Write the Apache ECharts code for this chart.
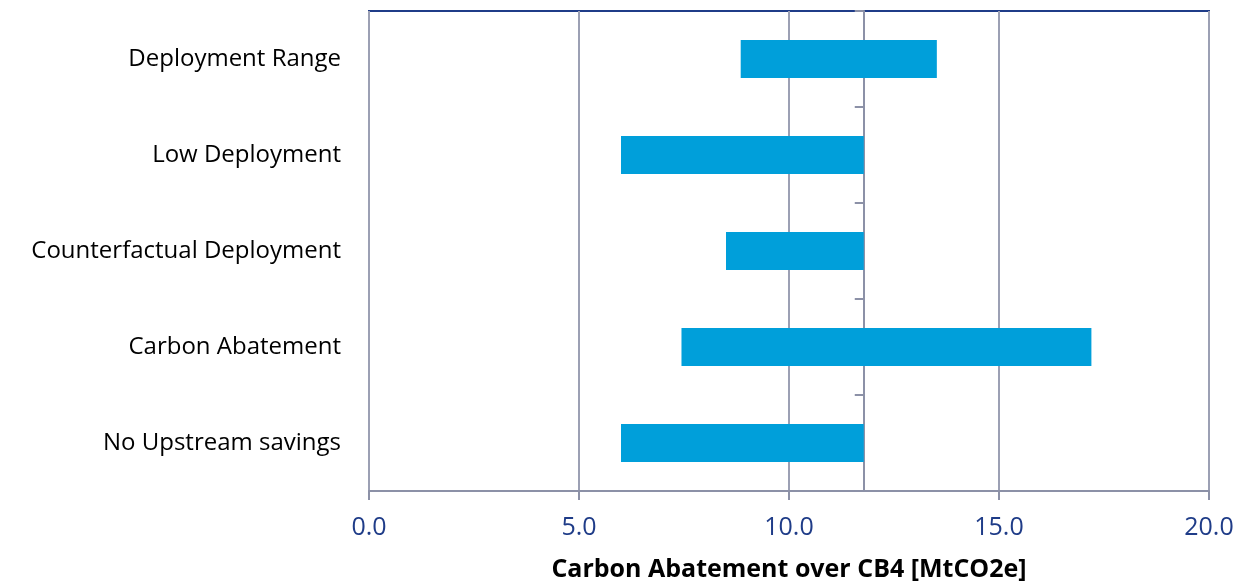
<!DOCTYPE html>
<html>
<head>
<meta charset="utf-8">
<script src="https://cdn.jsdelivr.net/npm/echarts@6/dist/echarts.min.js"></script>
<style>
html,body{margin:0;padding:0;background:#fff;}
#chart{width:1247px;height:584px;}
</style>
</head>
<body>
<div id="chart"></div>
<script>
const categories = ['Deployment Range', 'Low Deployment', 'Counterfactual Deployment', 'Carbon Abatement', 'No Upstream savings'];
const lowValues = [8.85, 6.0, 8.5, 7.44, 6.0];
const highValues = [13.52, 11.78, 11.78, 17.2, 11.78];
const baseline = 11.78;
const xTicks = [0, 5, 10, 15, 20];

const chart = echarts.init(document.getElementById('chart'));
const font = '"Open Sans", "Noto Sans", sans-serif';
const option = {
  animation: false,
  grid: { left: 369, right: 38, top: 11, bottom: 93, show: true, borderColor: '#1F3C88', borderWidth: 2, containLabel: false, outerBoundsMode: 'none' },
  xAxis: {
    type: 'value', min: xTicks[0], max: xTicks[xTicks.length - 1], interval: 5,
    axisLine: { show: true, lineStyle: { color: '#8C91A7', width: 2 } },
    axisTick: { show: true, length: 9, lineStyle: { color: '#8C91A7', width: 2 } },
    splitLine: { show: true, lineStyle: { color: '#9CA0B4', width: 2 } },
    axisLabel: { formatter: v => v.toFixed(1), color: '#1F3C88', fontSize: 25, fontFamily: font, margin: 24 },
    name: 'Carbon Abatement over CB4 [MtCO2e]', nameLocation: 'middle', nameGap: 66,
    nameTextStyle: { color: '#000', fontWeight: 'bold', fontSize: 25, fontFamily: font }
  },
  yAxis: [
    {
      type: 'category', data: categories, inverse: true,
      axisLine: { show: false }, axisTick: { show: false },
      axisLabel: { color: '#000', fontSize: 24, fontFamily: font, margin: 28 }
    },
    {
      type: 'category', data: categories, inverse: true, position: 'left', offset: 0,
      axisLine: { show: true, lineStyle: { color: '#8C91A7', width: 2 } },
      axisTick: { show: true, length: 9, lineStyle: { color: '#8C91A7', width: 2 } },
      axisLabel: { show: false }, splitLine: { show: false }
    }
  ],
  series: [
    { type: 'bar', stack: 'r', yAxisIndex: 0, data: lowValues, itemStyle: { color: 'transparent' }, barWidth: 38, silent: true },
    { type: 'bar', stack: 'r', yAxisIndex: 0, data: highValues.map((h, i) => +(h - lowValues[i]).toFixed(3)), itemStyle: { color: '#009FDA' }, barWidth: 38 }
  ]
};
chart.setOption(option);
const px = chart.convertToPixel({ xAxisIndex: 0 }, baseline);
chart.setOption({ yAxis: [{}, { offset: -(px - 369) }] });
</script>
</body>
</html>
